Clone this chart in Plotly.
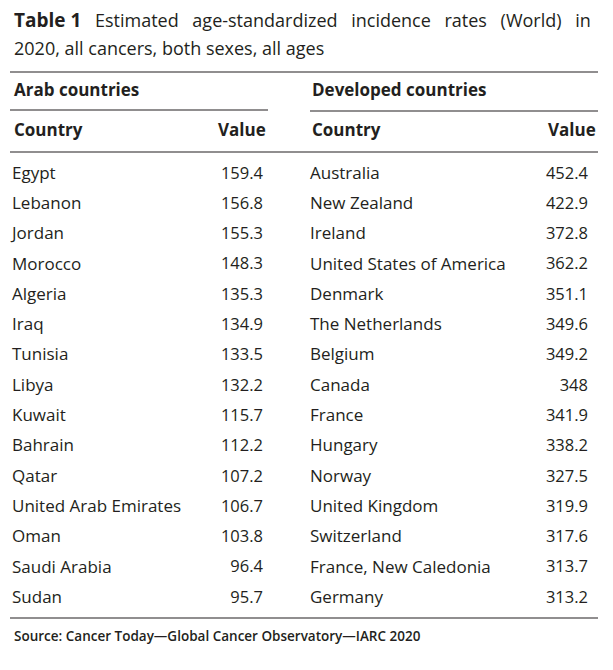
import plotly.graph_objects as go

# table data
arab_countries = ["Egypt", "Lebanon", "Jordan", "Morocco", "Algeria", "Iraq", "Tunisia", "Libya",
                  "Kuwait", "Bahrain", "Qatar", "United Arab Emirates", "Oman", "Saudi Arabia", "Sudan"]
arab_values = ["159.4", "156.8", "155.3", "148.3", "135.3", "134.9", "133.5", "132.2",
               "115.7", "112.2", "107.2", "106.7", "103.8", "96.4", "95.7"]
dev_countries = ["Australia", "New Zealand", "Ireland", "United States of America", "Denmark",
                 "The Netherlands", "Belgium", "Canada", "France", "Hungary", "Norway",
                 "United Kingdom", "Switzerland", "France, New Caledonia", "Germany"]
dev_values = ["452.4", "422.9", "372.8", "362.2", "351.1", "349.6", "349.2", "348",
              "341.9", "338.2", "327.5", "319.9", "317.6", "313.7", "313.2"]

title_bold = "Table 1"
title_line1 = "Estimated age-standardized incidence rates (World) in"
title_line2 = "2020, all cancers, both sexes, all ages"
group_labels = ["Arab countries", "Developed countries"]
col_labels = ["Country", "Value"]
source = "Source: Cancer Today\u2014Global Cancer Observatory\u2014IARC 2020"

W, H = 613, 670
OFF = 8  # page body margin of the browser
INK = "#231f20"
FONT = "Open Sans"
ROW0, STEP = 174.5, 30.29
rows = [ROW0 + i * STEP for i in range(len(arab_countries))]

fig = go.Figure()


def text_col(x, labels, pos, size):
    fig.add_trace(go.Scatter(
        x=[x] * len(labels), y=rows[:len(labels)], text=labels, mode="text",
        textposition=pos, textfont=dict(family=FONT, size=size, color=INK),
        hoverinfo="skip", showlegend=False))


text_col(12, arab_countries, "middle right", 17)
text_col(263, arab_values, "middle left", 16.5)
text_col(310, dev_countries, "middle right", 17)
text_col(588, dev_values, "middle left", 16.5)


def note(x, y, txt, anchor="left", size=17, weight="normal"):
    fig.add_annotation(x=x, y=y, xref="x", yref="y", text=txt, showarrow=False,
                       xanchor=anchor, yanchor="middle",
                       font=dict(family=FONT, size=size, color=INK, weight=weight))


# justify first title line by widening the gaps
wide = " \u2009\u2009\u2009"
note(12, 20, f"<b><span style='font-size:19px'>{title_bold}</span></b>" + wide + wide.join(title_line1.split(" ")),
     size=18)
note(12, 48, title_line2, size=18)
note(12, 89, group_labels[0], weight="bold")
note(310, 89, group_labels[1], weight="bold")
note(12, 129, col_labels[0], weight="bold")
note(268, 129, col_labels[1], anchor="right", weight="bold")
note(310, 129, col_labels[0], weight="bold")
note(598, 129, col_labels[1], anchor="right", weight="bold")
note(12, 636, source, size=13.5, weight=600)

# rules
for x0, x1, y in [(10, 598, 72), (10, 268, 110), (310, 598, 111), (10, 598, 152), (10, 598, 618)]:
    fig.add_shape(type="line", x0=x0, x1=x1, y0=y, y1=y, xref="x", yref="y",
                  line=dict(color=INK, width=1.2))

fig.update_layout(
    width=W, height=H, margin=dict(l=0, r=0, t=0, b=0),
    paper_bgcolor="white", plot_bgcolor="white",
    xaxis=dict(range=[OFF, W + OFF], visible=False, fixedrange=True),
    yaxis=dict(range=[H + OFF, OFF], visible=False, fixedrange=True),
)

fig.write_html("out.html")
